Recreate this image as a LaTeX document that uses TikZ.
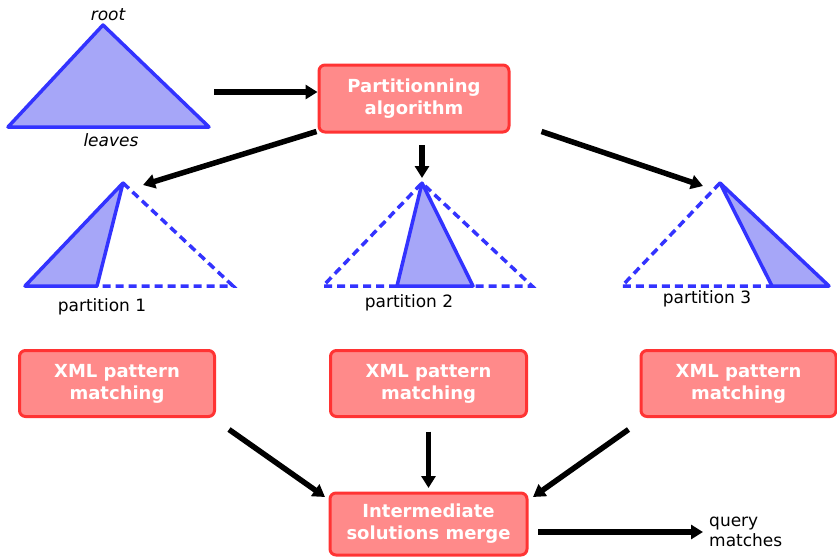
\documentclass[tikz,border=0pt]{standalone}
\usepackage{fontspec}
\setmainfont{DejaVu Sans}
\usetikzlibrary{arrows.meta}
\definecolor{boxfill}{RGB}{255,138,138}
\definecolor{boxline}{RGB}{255,51,51}
\definecolor{treefill}{RGB}{166,166,248}
\definecolor{treeline}{RGB}{51,51,255}
\tikzset{
  stepbox/.style={draw=boxline, fill=boxfill, line width=3pt, rounded corners=6pt,
    text=white, font=\fontsize{18}{22}\selectfont\bfseries, align=center, inner sep=0pt},
  flow/.style={line width=5.5pt, -{Triangle[length=12pt,width=14pt]}},
  part/.style={draw=treeline, fill=treefill, line width=3.5pt, line join=round},
  rest/.style={draw=treeline, line width=3.5pt, dash pattern=on 8pt off 5pt},
  lbl/.style={font=\fontsize{17}{20}\selectfont, inner sep=0pt},
}
\begin{document}
\begin{tikzpicture}[x=1pt, y=-1pt]
  \useasboundingbox (0,0) rectangle (837,557);
  % whole tree
  \coordinate (root) at (103,25);
  \draw[part] (root) -- (8,127) -- (209,127) -- cycle;
  \node[lbl, anchor=base] (rootlbl) at (108,20) {\itshape root};
  \node[lbl, anchor=base] (leaveslbl) at (111,146) {\itshape leaves};
  \coordinate (treeout) at (214,92);
  % boxes
  \node[stepbox, minimum width=190pt, minimum height=67pt] (algo) at (414,98.5)
    {Partitionning\\algorithm};
  \node[stepbox, minimum width=195pt, minimum height=66pt] (match1) at (117,383.5)
    {XML pattern\\matching};
  \node[stepbox, minimum width=196pt, minimum height=66pt] (match2) at (428.5,383.5)
    {XML pattern\\matching};
  \node[stepbox, minimum width=195pt, minimum height=66pt] (match3) at (738.5,383.5)
    {XML pattern\\matching};
  \node[stepbox, minimum width=197pt, minimum height=62pt] (merge) at (428.5,524)
    {Intermediate\\solutions merge};
  % partitions
  \coordinate (top1) at (123,183);
  \draw[rest] (top1) -- (233,286) -- (97,286);
  \draw[part] (top1) -- (25,286) -- (97,286) -- cycle;
  \node[lbl, anchor=base] (plbl1) at (102,311) {partition 1};
  \coordinate (top2) at (422,183);
  \draw[rest] (397,286) -- (323,286) -- (top2) -- (532,286) -- (473,286);
  \draw[part] (top2) -- (397,286) -- (473,286) -- cycle;
  \node[lbl, anchor=base] (plbl2) at (409,307) {partition 2};
  \coordinate (top3) at (720,183);
  \draw[rest] (top3) -- (622,286) -- (772,286);
  \draw[part] (top3) -- (772,286) -- (829,286) -- cycle;
  \node[lbl, anchor=base] (plbl3) at (707,303) {partition 3};
  \node[lbl, anchor=base west, align=left] (query) at (709,546) {query\\matches};
  % arrow ends
  \coordinate (in1) at (143,185);
  \coordinate (in2) at (422,178);
  \coordinate (in3) at (703,186);
  \coordinate (out2) at (422,145);
  \coordinate (mergein1) at (325,497);
  \coordinate (mergein2) at (428.5,488);
  \coordinate (mergein3) at (533,497);
  \coordinate (mergeout) at (538,532);
  \coordinate (queryin) at (703,532);
  % arrows
  \draw[flow] (treeout) -- (treeout -| algo.west);
  \draw[flow] ([xshift=-1pt,yshift=2pt]algo.south west) -- (in1);
  \draw[flow] (out2) -- (in2);
  \draw[flow] ([xshift=31pt,yshift=2pt]algo.south east) -- (in3);
  \draw[flow] ([xshift=13pt,yshift=-11.5pt]match1.south east) -- (mergein1);
  \draw[flow] ([yshift=-13.5pt]match2.south) -- (mergein2);
  \draw[flow] ([xshift=-11pt,yshift=-11.5pt]match3.south west) -- (mergein3);
  \draw[flow] (mergeout) -- (queryin);
\end{tikzpicture}
\end{document}
